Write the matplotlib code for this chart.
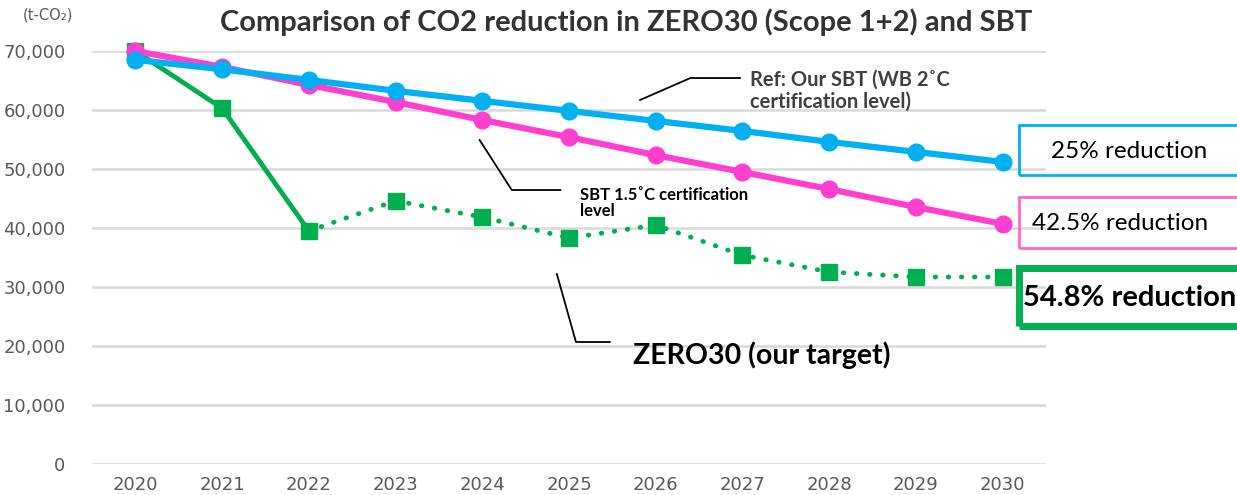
import matplotlib.pyplot as plt
from matplotlib.patches import Rectangle

years = [2020, 2021, 2022, 2023, 2024, 2025, 2026, 2027, 2028, 2029, 2030]
sbt_wb2 = [68500, 66900, 65100, 63250, 61550, 59850, 58150, 56450, 54600, 52900, 51200]
sbt_15 = [70000, 67300, 64250, 61350, 58300, 55400, 52350, 49500, 46600, 43550, 40700]
zero30 = [70000, 60300, 39500, 44600, 41850, 38300, 40500, 35400, 32550, 31700, 31700]
yticks = [0, 10000, 20000, 30000, 40000, 50000, 60000, 70000]

BLUE = "#00B0F0"
PINK = "#FF3FCF"
GREEN = "#00B050"
TICK = "#595959"

W, H = 1237, 495
fig = plt.figure(figsize=(W / 100, H / 100), dpi=100)
ax = fig.add_axes([92 / W, 1 - 464 / H, (1046 - 92) / W, (464 - 51) / H])

# green: solid up to 2022, dotted afterwards
ax.plot(years[:3], zero30[:3], color=GREEN, lw=3.5, zorder=3)
ax.plot(years[2:], zero30[2:], color=GREEN, lw=3.5, ls=(0, (0.1, 2.6)),
        dash_capstyle="round", zorder=3)
ax.plot(years, zero30, ls="none", marker="s", ms=11, color=GREEN, zorder=3,
        clip_on=False)
ax.plot(years, sbt_15, color=PINK, lw=4.5, marker="o", ms=12, zorder=4,
        clip_on=False)
ax.plot(years, sbt_wb2, color=BLUE, lw=4.5, marker="o", ms=12, zorder=5,
        clip_on=False)

ax.set_xlim(2019.5, 2030.5)
ax.set_ylim(0, 70000)
ax.set_xticks(years)
ax.set_yticks(yticks)
ax.set_yticklabels([f"{v:,}" for v in yticks])
ax.tick_params(length=0, colors=TICK, labelsize=13)
ax.tick_params(axis="y", pad=19)
ax.tick_params(axis="x", pad=9)
for lab in ax.get_xticklabels() + ax.get_yticklabels():
    lab.set_family("DejaVu Sans")
ax.grid(axis="y", color="#D9D9D9", lw=1.8)
ax.set_axisbelow(True)
for s in ax.spines.values():
    s.set_visible(False)

fig.text(626 / W, 1 - 22 / H, "Comparison of CO2 reduction in ZERO30 (Scope 1+2) and SBT",
         ha="center", va="center", fontsize=21, fontweight="bold", color="#333333",
         family="Lato")
fig.text(48 / W, 1 - 15 / H, "(t-CO₂)", ha="center", va="center", fontsize=10.5,
         color=TICK, family=["DejaVu Sans"])

# leader lines and labels
ax.plot([2025.82, 2026.40, 2026.97], [61700, 65420, 65420], color="black", lw=1.3,
        clip_on=False, zorder=6)
ax.text(2027.09, 63300, "Ref: Our SBT (WB 2˚C\ncertification level)", ha="left",
        va="center", fontsize=14.5, fontweight="bold", color="#404040", family="Lato",
        linespacing=1.1)
ax.plot([2023.97, 2024.34, 2024.90], [54900, 46440, 46440], color="black", lw=1.3,
        clip_on=False, zorder=6)
ax.text(2025.13, 44250, "SBT 1.5˚C certification\nlevel", ha="left", va="center",
        fontsize=12, fontweight="bold", color="black", family="Lato", linespacing=1.05)
ax.plot([2024.86, 2025.08, 2025.47], [32200, 20680, 20680], color="black", lw=1.3,
        clip_on=False, zorder=6)
ax.text(2025.74, 18470, "ZERO30 (our target)", ha="left", va="center",
        fontsize=20.5, fontweight="bold", color="black", family="Lato")

# reduction boxes on the right
def box(y0, y1, color, lw):
    fig.add_artist(Rectangle((1019 / W, 1 - y1 / H), 260 / W, (y1 - y0) / H,
                             transform=fig.transFigure, fill=False, ec=color, lw=lw,
                             clip_on=False))

box(125, 175, BLUE, 2)
box(197, 248, "#FF66CC", 2)
box(268, 326, GREEN, 5)
fig.text(1129 / W, 1 - 151 / H, "25% reduction", ha="center", va="center",
         fontsize=17.5, family="Lato")
fig.text(1120 / W, 1 - 223 / H, "42.5% reduction", ha="center", va="center",
         fontsize=17.5, family="Lato")
fig.text(1023 / W, 1 - 298 / H, "54.8% reduction", ha="left", va="center",
         fontsize=21, fontweight="bold", family="Lato")

fig.savefig("out.png", dpi=100)
